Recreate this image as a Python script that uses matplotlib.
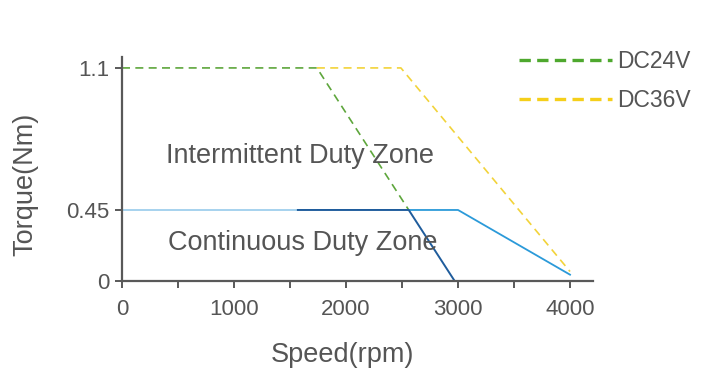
"""Torque-speed curve for a DC servo motor (24V / 36V)."""

import matplotlib

matplotlib.use("Agg")
import matplotlib.pyplot as plt
import numpy as np
from matplotlib.lines import Line2D

plt.rcParams["font.family"] = ["Liberation Sans", "DejaVu Sans"]

# ----------------------------------------------------------------------
# Data (speed in rpm, torque in Nm)
# ----------------------------------------------------------------------
peak_24v_speed = [0, 1740, 2560]
peak_24v_torque = [1.1, 1.1, 0.45]

peak_36v_speed = [1740, 2490, 4000]
peak_36v_torque = [1.1, 1.1, 0.06]

cont_base_speed = [0, 1570]
cont_base_torque = [0.45, 0.45]

cont_24v_speed = [1570, 2560, 2970]
cont_24v_torque = [0.45, 0.45, 0.0]

cont_36v_speed = [2560, 3000, 4000]
cont_36v_torque = [0.45, 0.45, 0.04]

x_ticks = [0, 1000, 2000, 3000, 4000]
x_minor = [500, 1500, 2500, 3500]
y_ticks = [0, 0.45, 1.1]
y_tick_labels = ["0", "0.45", "1.1"]

TEXT = "#555555"
AXIS = "#595959"
GREEN = "#5ea63c"
YELLOW = "#f2d33a"
LIGHT_BLUE = "#a6d2ee"
DARK_BLUE = "#1f5c9c"
MID_BLUE = "#2b9ad9"

# The source drawing squeezes the lower torque band, so map the axis
# piecewise: 0..0.45 and 0.45..1.1 get their own pixel ratio.
_vals = [-1.0, 0.0, 0.45, 1.1, 3.0]
_disp = [-157.8, 0.0, 71.0, 213.0, 213.0 + 1.9 * 218.5]


def _forward(v):
    return np.interp(v, _vals, _disp)


def _inverse(d):
    return np.interp(d, _disp, _vals)


fig = plt.figure(figsize=(7.05, 3.86), dpi=100)
ax = fig.add_axes([122 / 705, 1 - 281 / 386, (593 - 122) / 705, (281 - 57) / 386])
ax.set_yscale("function", functions=(_forward, _inverse))

dash = (0, (4.8, 3.2))
ax.plot(peak_36v_speed, peak_36v_torque, color=YELLOW, lw=1.2, linestyle=dash)
ax.plot(peak_24v_speed, peak_24v_torque, color=GREEN, lw=1.2, linestyle=dash)
ax.plot(cont_base_speed, cont_base_torque, color=LIGHT_BLUE, lw=1.4)
ax.plot(cont_36v_speed, cont_36v_torque, color=MID_BLUE, lw=1.3)
ax.plot(cont_24v_speed, cont_24v_torque, color=DARK_BLUE, lw=1.4)

ax.set_xlim(0, 4205)
ax.set_ylim(0, 1.15)

for side in ("top", "right"):
    ax.spines[side].set_visible(False)
for side in ("left", "bottom"):
    ax.spines[side].set_color(AXIS)
    ax.spines[side].set_linewidth(1.6)

ax.set_xticks(x_ticks)
ax.set_xticks(x_minor, minor=True)
ax.set_yticks(y_ticks, labels=y_tick_labels)
ax.tick_params(axis="both", which="both", color=AXIS, width=1.4, length=5,
               labelcolor=TEXT, labelsize=16, direction="out")
ax.tick_params(axis="x", pad=8)
ax.tick_params(axis="y", pad=4)

ax.set_xlabel("Speed(rpm)", fontsize=19.5, color=TEXT)
ax.xaxis.set_label_coords(0.467, -0.273)
ax.set_ylabel("Torque(Nm)", fontsize=19.5, color=TEXT)
ax.yaxis.set_label_coords(-0.177, 0.433)

ax.text(1590, 0.697, "Intermittent Duty Zone", fontsize=19.5, color=TEXT,
        ha="center", va="center")
ax.text(1615, 0.24, "Continuous Duty Zone", fontsize=19.5, color=TEXT,
        ha="center", va="center")

handles = [
    Line2D([], [], color="#4ea82e", lw=2.4, linestyle=(0, (3.4, 1.9))),
    Line2D([], [], color="#f5cf1a", lw=2.4, linestyle=(0, (3.4, 1.9))),
]
fig.legend(handles, ["DC24V", "DC36V"], loc="upper left",
           bbox_to_anchor=(519 / 705, 1 - 50 / 386), frameon=False,
           fontsize=16.5, labelcolor=TEXT, handlelength=4.06, handletextpad=0.22,
           labelspacing=0.7, borderpad=0, borderaxespad=0)

fig.savefig("out.png", dpi=100)
